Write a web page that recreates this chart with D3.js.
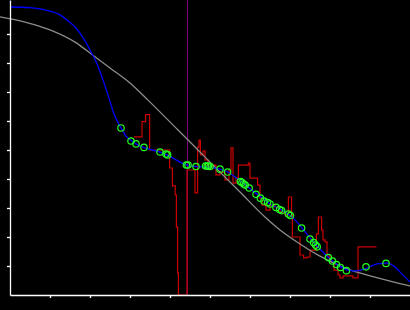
<!DOCTYPE html>
<html>
<head>
<meta charset="utf-8">
<script src="https://cdn.jsdelivr.net/npm/d3@7"></script>
<style>
  html, body { margin: 0; padding: 0; background: #000; }
  svg { display: block; }
</style>
</head>
<body>
<script>
// ---- data ----
const xTicks = [1, 2, 3, 4, 5, 6, 7, 8, 9];
const yTicks = [1, 2, 3, 4, 5, 6, 7, 8, 9];

const grayX = [-0.25, 0.375, 1.0, 1.625, 2.1, 2.5, 3.0, 3.45, 4.2, 4.75, 5.75, 6.375, 6.75, 7.25, 7.75, 8.375, 9.125, 10];
const grayY = [9.59, 9.41, 9.14, 8.72, 8.24, 7.83, 7.31, 6.72, 5.69, 4.93, 3.55, 2.69, 2.24, 1.76, 1.34, 0.93, 0.62, 0.31];

const blueX = [0, 0.5, 1.0, 1.25, 1.425, 1.625, 1.75, 1.875, 2.0, 2.175, 2.325, 2.475, 2.6, 2.775, 2.9, 3.05, 3.2, 3.375, 3.75, 3.925, 4.425, 4.675, 4.95, 5.25, 5.45, 5.625, 5.8, 5.95, 6.175, 6.375, 6.5, 6.7, 6.95, 7.125, 7.3, 7.5, 7.675, 7.95, 8.2, 8.45, 8.675, 8.925, 9.175, 9.425, 9.625, 9.8, 10];
const blueY = [9.93, 9.91, 9.79, 9.66, 9.48, 9.24, 9.03, 8.76, 8.45, 7.97, 7.41, 6.79, 6.24, 5.76, 5.48, 5.31, 5.17, 5.07, 4.93, 4.83, 4.48, 4.43, 4.41, 4.34, 4.24, 4.07, 3.90, 3.72, 3.48, 3.28, 3.14, 3.0, 2.79, 2.59, 2.31, 1.97, 1.69, 1.31, 1.03, 0.86, 0.83, 0.93, 1.07, 1.10, 0.97, 0.72, 0.45];

const markX = [2.775, 3.025, 3.15, 3.35, 3.75, 3.9, 3.94, 4.41, 4.45, 4.65, 4.89, 4.93, 4.96, 5.0, 5.25, 5.44, 5.76, 5.8, 5.84, 5.88, 5.98, 6.15, 6.26, 6.35, 6.44, 6.5, 6.65, 6.74, 6.79, 6.96, 7.01, 7.29, 7.5, 7.59, 7.64, 7.68, 7.96, 8.06, 8.16, 8.26, 8.41, 8.9, 9.4];
const markY = [5.76, 5.31, 5.21, 5.09, 4.93, 4.86, 4.83, 4.48, 4.48, 4.43, 4.45, 4.45, 4.45, 4.43, 4.34, 4.24, 3.91, 3.88, 3.83, 3.79, 3.69, 3.47, 3.34, 3.24, 3.19, 3.14, 3.02, 2.95, 2.91, 2.79, 2.74, 2.31, 1.93, 1.81, 1.72, 1.66, 1.29, 1.17, 1.05, 0.95, 0.84, 0.97, 1.09];

const redX = [3.1, 3.3, 3.39, 3.49, 3.99, 4.06, 4.13, 4.16, 4.19, 4.21, 4.425, 4.625, 4.69, 4.725, 4.76, 4.825, 4.875, 4.95, 5.075, 5.15, 5.25, 5.375, 5.475, 5.525, 5.575, 5.65, 5.71, 5.96, 6.0, 6.19, 6.25, 6.3, 6.4, 6.5, 6.625, 6.75, 6.875, 6.96, 7.04, 7.06, 7.25, 7.34, 7.425, 7.5, 7.66, 7.71, 7.79, 7.825, 7.875, 7.925, 8.0, 8.1, 8.2, 8.25, 8.325, 8.575, 8.7, 9.16];
const redY = [5.45, 5.98, 6.22, 5.0, 4.38, 3.76, 3.45, 2.34, 0.76, 0, 4.31, 3.52, 5.10, 5.34, 4.83, 4.97, 4.66, 4.38, 4.48, 4.14, 4.24, 3.97, 4.31, 5.07, 3.86, 4.03, 4.48, 4.55, 4.03, 3.79, 3.34, 3.10, 2.93, 3.10, 3.03, 2.86, 2.76, 3.38, 2.79, 2.0, 1.38, 1.28, 1.31, 1.55, 2.10, 2.69, 2.24, 1.90, 1.83, 1.34, 1.14, 0.86, 0.69, 0.59, 0.66, 0.59, 1.66, 1.66];

const vlineX = [4.425];

// ---- chart ----
const W = 410, H = 310;
const x = d3.scaleLinear().domain([0, 10]).range([10, 410]);
const y = d3.scaleLinear().domain([0, 10.172]).range([295, 0]);

const svg = d3.select("body").append("svg").attr("width", W).attr("height", H)
  .style("background", "#000");

const zip = (a, b) => a.map((v, i) => [v, b[i]]);

// vertical marker line
svg.selectAll("line.vl").data(vlineX).join("line")
  .attr("class", "vl")
  .attr("x1", d => Math.round(x(d)) + 0.5).attr("x2", d => Math.round(x(d)) + 0.5)
  .attr("y1", y.range()[1]).attr("y2", y(0))
  .attr("stroke", "#800080").attr("stroke-width", 1);

// red step series
svg.append("path").datum(zip(redX, redY))
  .attr("fill", "none").attr("stroke", "#cc0000").attr("stroke-width", 1.2)
  .attr("d", d3.line().x(d => x(d[0])).y(d => y(d[1])).curve(d3.curveStepAfter));

// gray curve
svg.append("path").datum(zip(grayX, grayY))
  .attr("fill", "none").attr("stroke", "#8c8c8c").attr("stroke-width", 1.3)
  .attr("d", d3.line().x(d => x(d[0])).y(d => y(d[1])).curve(d3.curveMonotoneX));

// blue curve
svg.append("path").datum(zip(blueX, blueY))
  .attr("fill", "none").attr("stroke", "#0000ff").attr("stroke-width", 1.3)
  .attr("d", d3.line().x(d => x(d[0])).y(d => y(d[1])).curve(d3.curveMonotoneX));

// markers
svg.selectAll("circle.m").data(zip(markX, markY)).join("circle")
  .attr("class", "m")
  .attr("cx", d => x(d[0])).attr("cy", d => y(d[1])).attr("r", 3.2)
  .attr("fill", "none").attr("stroke", "#22ff22").attr("stroke-width", 1.2);

// axes
const gx = svg.append("g").attr("transform", "translate(0,295)")
  .call(d3.axisBottom(x).tickValues(xTicks).tickSize(3).tickSizeOuter(0).tickFormat(""));
const gy = svg.append("g").attr("transform", "translate(10,0)")
  .call(d3.axisLeft(y).tickValues(yTicks).tickSize(3).tickSizeOuter(0).tickFormat(""));
[gx, gy].forEach(g => {
  g.selectAll("path, line").attr("stroke", "#fff").attr("stroke-width", 1.3);
});
</script>
</body>
</html>
